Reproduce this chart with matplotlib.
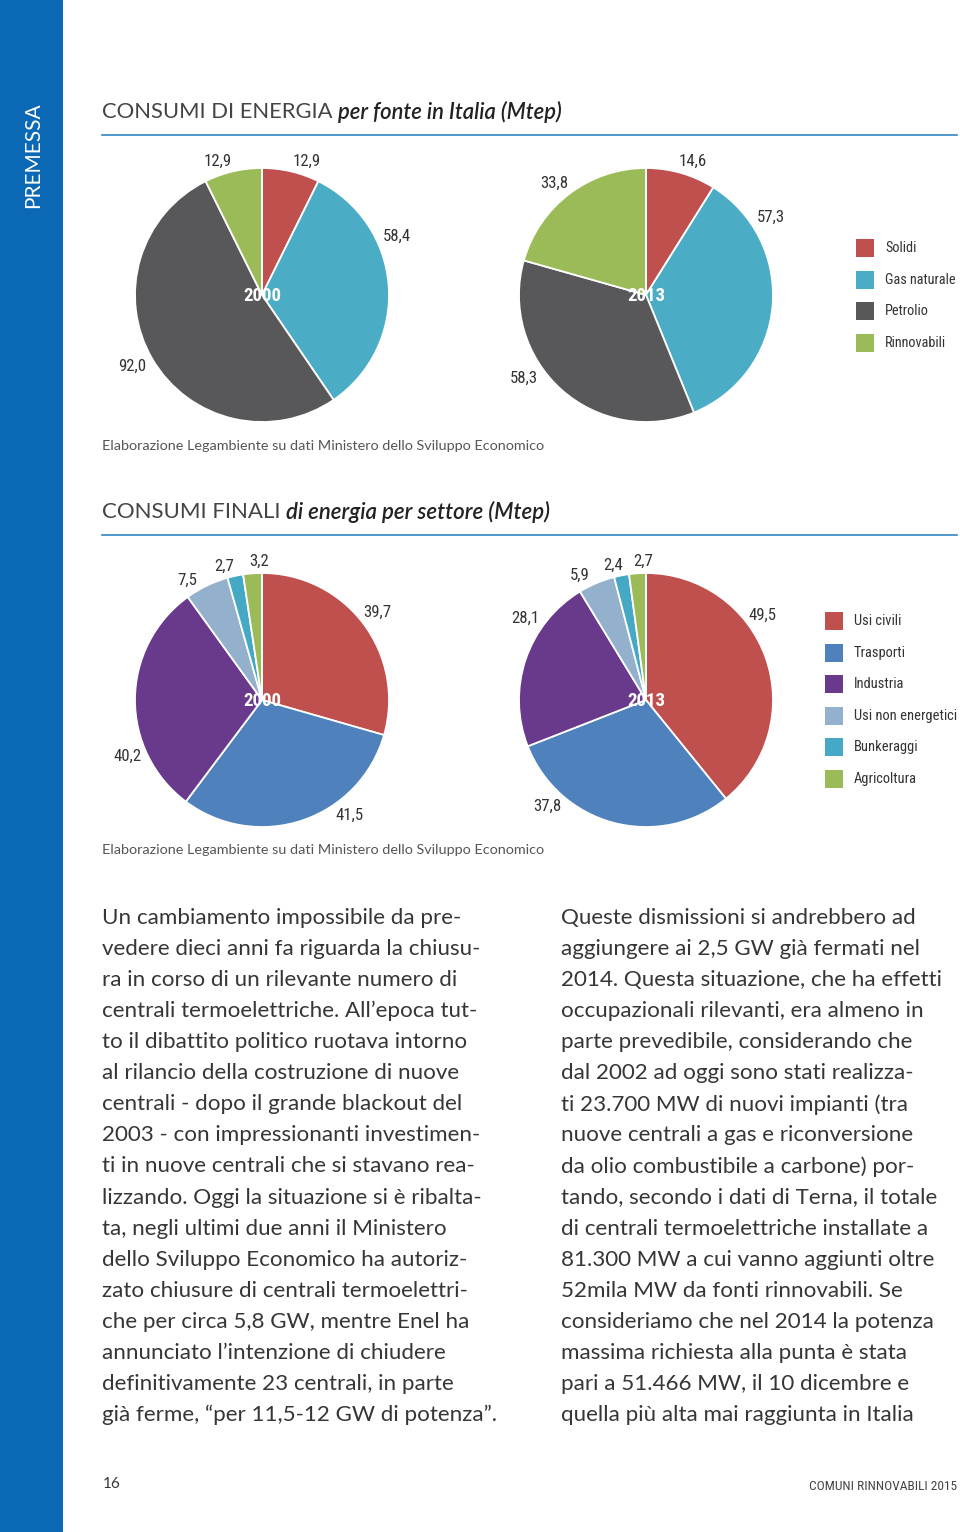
import matplotlib
matplotlib.use('Agg')
import matplotlib.pyplot as plt
from matplotlib.patches import Rectangle
from matplotlib.lines import Line2D

# --- data -------------------------------------------------------------
anni = ['2000', '2013']

fonti = ['Solidi', 'Gas naturale', 'Petrolio', 'Rinnovabili']
fonti_2000 = [12.9, 58.4, 92.0, 12.9]
fonti_2013 = [14.6, 57.3, 58.3, 33.8]

settori = ['Usi civili', 'Trasporti', 'Industria', 'Usi non energetici',
           'Bunkeraggi', 'Agricoltura']
settori_2000 = [39.7, 41.5, 40.2, 7.5, 2.7, 3.2]
settori_2013 = [49.5, 37.8, 28.1, 5.9, 2.4, 2.7]

colori_fonti = ['#c0504d', '#4bacc6', '#58585a', '#9bbb59']
colori_settori = ['#c0504d', '#4f81bd', '#693a8b', '#93b0cd', '#45a8c4', '#9bbb59']

# label anchors, in units of the pie radius (layout only)
pos_fonti_2000 = [(0.35, 1.05), (1.06, 0.46), (-1.02, -0.56), (-0.35, 1.05)]
pos_fonti_2013 = [(0.37, 1.05), (0.98, 0.61), (-0.96, -0.66), (-0.72, 0.88)]
pos_settori_2000 = [(0.91, 0.69), (0.69, -0.91), (-1.06, -0.44),
                    (-0.59, 0.94), (-0.30, 1.05), (-0.02, 1.09)]
pos_settori_2013 = [(0.92, 0.67), (-0.78, -0.84), (-0.95, 0.64),
                    (-0.52, 0.98), (-0.26, 1.06), (-0.02, 1.09)]

testo_sx = [
    "Un cambiamento impossibile da pre-",
    "vedere dieci anni fa riguarda la chiusu-",
    "ra in corso di un rilevante numero di",
    "centrali termoelettriche. All’epoca tut-",
    "to il dibattito politico ruotava intorno",
    "al rilancio della costruzione di nuove",
    "centrali - dopo il grande blackout del",
    "2003 - con impressionanti investimen-",
    "ti in nuove centrali che si stavano rea-",
    "lizzando. Oggi la situazione si è ribalta-",
    "ta, negli ultimi due anni il Ministero",
    "dello Sviluppo Economico ha autoriz-",
    "zato chiusure di centrali termoelettri-",
    "che per circa 5,8 GW, mentre Enel ha",
    "annunciato l’intenzione di chiudere",
    "definitivamente 23 centrali, in parte",
    "già ferme, “per 11,5-12 GW di potenza”.",
]
testo_dx = [
    "Queste dismissioni si andrebbero ad",
    "aggiungere ai 2,5 GW già fermati nel",
    "2014. Questa situazione, che ha effetti",
    "occupazionali rilevanti, era almeno in",
    "parte prevedibile, considerando che",
    "dal 2002 ad oggi sono stati realizza-",
    "ti 23.700 MW di nuovi impianti (tra",
    "nuove centrali a gas e riconversione",
    "da olio combustibile a carbone) por-",
    "tando, secondo i dati di Terna, il totale",
    "di centrali termoelettriche installate a",
    "81.300 MW a cui vanno aggiunti oltre",
    "52mila MW da fonti rinnovabili. Se",
    "consideriamo che nel 2014 la potenza",
    "massima richiesta alla punta è stata",
    "pari a 51.466 MW, il 10 dicembre e",
    "quella più alta mai raggiunta in Italia",
]

fonte_dati = "Elaborazione Legambiente su dati Ministero dello Sviluppo Economico"

# --- page setup -------------------------------------------------------
W, H = 960, 1532
fig = plt.figure(figsize=(W / 100, H / 100), dpi=100)
fig.patch.set_facecolor('white')
renderer = fig.canvas.get_renderer()

NARROW = ['Roboto Condensed', 'Roboto', 'DejaVu Sans']
BODY = ['Lato', 'DejaVu Sans']
BLUE = '#0a68b4'
TXT = '#363636'


def fx(x):
    return x / W


def fy(y):
    return 1 - y / H


def width_of(s, size, **kw):
    t = fig.text(0, 0, s, fontsize=size, **kw)
    w = t.get_window_extent(renderer).width
    t.remove()
    return w


def fit_size(lines, width, **kw):
    # font size at which the widest of `lines` spans `width` pixels
    w = max(width_of(s, 10, **kw) for s in lines)
    return 10 * width / w


def title(y, first, second, width, line_y):
    t1 = fig.text(fx(102), fy(y), first, fontsize=15, family=BODY,
                  color='#444444', va='center')
    t2 = fig.text(0, fy(y), second, fontsize=15, family=BODY, style='italic',
                  weight='semibold', color='#222222', va='center')
    w = t1.get_window_extent(renderer).width + t2.get_window_extent(renderer).width
    k = width / w
    t1.set_fontsize(15 * k)
    t2.set_fontsize(15 * k)
    w1 = t1.get_window_extent(renderer).width
    t2.set_x(fx(102 + w1))
    fig.add_artist(Line2D([fx(102), fx(957)], [fy(line_y), fy(line_y)],
                          color='#2f86c0', lw=1.2))


def pie(cx, cy, values, colors, label_pos, year, r=127):
    ax = fig.add_axes([fx(cx - r), fy(cy + r), 2 * r / W, 2 * r / H])
    ax.pie(values, colors=colors, startangle=90, counterclock=False,
           wedgeprops=dict(edgecolor='white', linewidth=1.3))
    ax.set_xlim(-1, 1)
    ax.set_ylim(-1, 1)
    ax.axis('off')
    for v, (px, py) in zip(values, label_pos):
        ax.text(px, py, f"{v:.1f}".replace('.', ','), ha='center', va='center',
                fontsize=lbl_size, family=NARROW, color='#333333')
    ax.text(0, -0.01, year, ha='center', va='center', fontsize=yr_size,
            weight='bold', family=NARROW, color='white')


def legend(x, y0, step, labels, colors, text_width):
    size = min(13, fit_size(labels, text_width, family=NARROW))
    for i, (lab, c) in enumerate(zip(labels, colors)):
        y = y0 + i * step
        fig.add_artist(Rectangle((fx(x), fy(y + 9)), 18 / W, 18 / H,
                                 facecolor=c, edgecolor='none'))
        fig.text(fx(x + 29), fy(y), lab, fontsize=size, family=NARROW,
                 color='#333333', va='center')


# label sizes matched to the widths of "12,9" and "2000" in the page
lbl_size = fit_size(['12,9'], 28, family=NARROW)
yr_size = fit_size(['2000'], 38, family=NARROW, weight='bold')

# sidebar
fig.add_artist(Rectangle((0, 0), 63 / W, 1, facecolor=BLUE, edgecolor='none'))
fig.text(fx(33), fy(155), 'PREMESSA', rotation=90, ha='center', va='center',
         color='white', fontsize=15, family=BODY)

# chart 1
title(112, 'CONSUMI DI ENERGIA ', 'per fonte in Italia (Mtep)', 461, 135)
pie(262, 295, fonti_2000, colori_fonti, pos_fonti_2000, anni[0])
pie(646, 295, fonti_2013, colori_fonti, pos_fonti_2013, anni[1])
legend(856, 248, 31.7, fonti, colori_fonti, 71)
src_size = fit_size([fonte_dati], 443, family=BODY)
fig.text(fx(102), fy(446), fonte_dati, fontsize=src_size, family=BODY,
         color='#555555', va='center')

# chart 2
title(512, 'CONSUMI FINALI ', 'di energia per settore (Mtep)', 449, 535)
pie(262, 700, settori_2000, colori_settori, pos_settori_2000, anni[0])
pie(646, 700, settori_2013, colori_settori, pos_settori_2013, anni[1])
legend(825, 621, 31.6, settori, colori_settori, 102)
fig.text(fx(102), fy(850), fonte_dati, fontsize=src_size, family=BODY,
         color='#555555', va='center')

# body text, two columns
size = min(fit_size(testo_sx, 396, family=BODY),
           fit_size(testo_dx, 394, family=BODY))
step = (1415 - 918) / 16
for i, (a, b) in enumerate(zip(testo_sx, testo_dx)):
    y = 918 + i * step
    fig.text(fx(102), fy(y), a, fontsize=size, family=BODY, color=TXT, va='center')
    fig.text(fx(561), fy(y), b, fontsize=size, family=BODY, color=TXT, va='center')

# footer
fig.text(fx(103), fy(1484), '16', fontsize=11, family=BODY, color=TXT, va='center')
foot = 'COMUNI RINNOVABILI 2015'
fig.text(fx(957), fy(1486), foot, fontsize=fit_size([foot], 147, family=NARROW),
         family=NARROW, color='#444444', va='center', ha='right')

fig.savefig('out.png', dpi=100)
